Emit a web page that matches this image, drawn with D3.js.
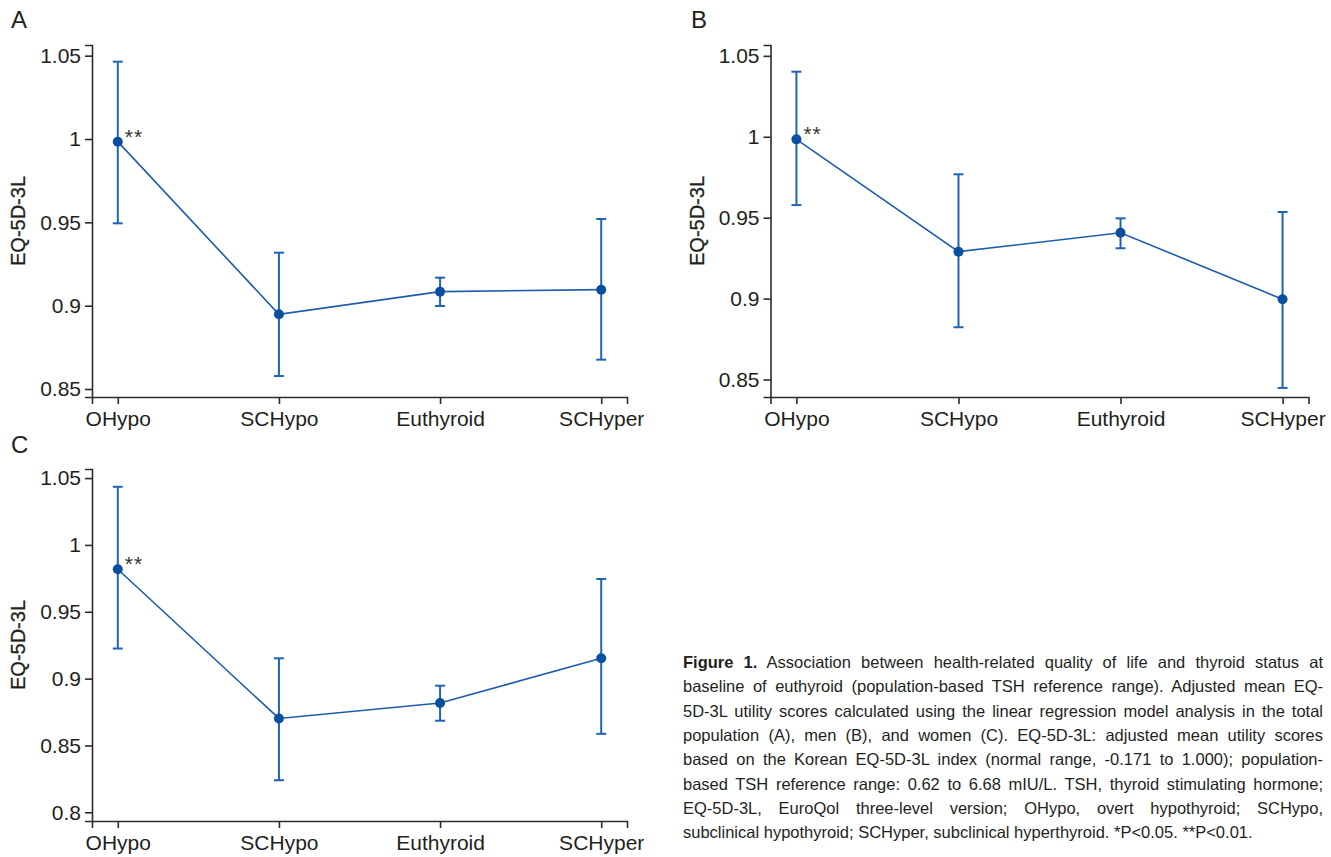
<!DOCTYPE html>
<html>
<head>
<meta charset="utf-8">
<script src="https://cdn.jsdelivr.net/npm/d3@7"></script>
<style>
  body { margin: 0; background: #fff; }
  svg { display: block; font-family: "Liberation Sans", Arial, sans-serif; }
  .axis path, .axis line { stroke: #2b2b2b; stroke-width: 1.6; }
  .axis text { font-size: 21px; fill: #231f20; font-family: "Liberation Sans", Arial, sans-serif; }
</style>
</head>
<body>
<svg id="fig" width="1331" height="857"></svg>
<script>
var categories = ["OHypo", "SCHypo", "Euthyroid", "SCHyper"];

// A: total population
var meanA = [0.9984, 0.8948, 0.9084, 0.9096];
var lowA  = [0.9494, 0.8578, 0.8998, 0.8676];
var highA = [1.0464, 0.9318, 0.9168, 0.9520];
var ticksA = [0.85, 0.9, 0.95, 1, 1.05];

// B: men
var meanB = [0.9984, 0.9290, 0.9407, 0.8996];
var lowB  = [0.9578, 0.8823, 0.9311, 0.8448];
var highB = [1.0402, 0.9768, 0.9496, 0.9535];
var ticksB = [0.85, 0.9, 0.95, 1, 1.05];

// C: women
var meanC = [0.9818, 0.8702, 0.8818, 0.9152];
var lowC  = [0.9225, 0.8240, 0.8685, 0.8587];
var highC = [1.0435, 0.9152, 0.8947, 0.9745];
var ticksC = [0.8, 0.85, 0.9, 0.95, 1, 1.05];

var sigLabel = ["**", "", "", ""];

var captionLines = [
  "Association between health-related quality of life and thyroid status at",
  "baseline of euthyroid (population-based TSH reference range). Adjusted mean EQ-",
  "5D-3L utility scores calculated using the linear regression model analysis in the total",
  "population (A), men (B), and women (C). EQ-5D-3L: adjusted mean utility scores",
  "based on the Korean EQ-5D-3L index (normal range, -0.171 to 1.000); population-",
  "based TSH reference range: 0.62 to 6.68 mIU/L. TSH, thyroid stimulating hormone;",
  "EQ-5D-3L, EuroQol three-level version; OHypo, overt hypothyroid; SCHypo,",
  "subclinical hypothyroid; SCHyper, subclinical hyperthyroid. *P<0.05. **P<0.01."
];

var barColor = "#1f64b4", dotColor = "#0a4f9f", lineColor = "#1c5cac";

var svg = d3.select("#fig");

function drawPanel(letter, box, yDomain, ticks, mean, low, high) {
  var g = svg.append("g");

  var x = d3.scalePoint().domain(categories).range([box.x0, box.x1]).padding(0.16);
  var y = d3.scaleLinear().domain(yDomain).range([box.y1, box.y0]);

  g.append("g").attr("class", "axis")
    .attr("transform", "translate(0," + box.y1 + ")")
    .call(d3.axisBottom(x).tickSize(7).tickPadding(7));

  g.append("g").attr("class", "axis")
    .attr("transform", "translate(" + box.x0 + ",0)")
    .call(d3.axisLeft(y).tickValues(ticks).tickFormat(function(d) { return String(d); }).tickSize(7).tickPadding(4));

  g.append("text")
    .attr("transform", "translate(" + (box.x0 - 74) + "," + ((box.y0 + box.y1) / 2) + ") rotate(-90)")
    .attr("text-anchor", "middle")
    .attr("dy", "0.35em")
    .style("font-size", "20px")
    .style("fill", "#231f20")
    .style("stroke", "#231f20")
    .style("stroke-width", 0.3)
    .text("EQ-5D-3L");

  g.append("text")
    .attr("x", box.lx).attr("y", box.ly)
    .style("font-size", "24px")
    .style("fill", "#231f20")
    .text(letter);

  var rows = categories.map(function(c, i) {
    return { cat: c, m: mean[i], lo: low[i], hi: high[i], sig: sigLabel[i] };
  });

  // error bars
  var eb = g.selectAll(".eb").data(rows).enter().append("g");
  eb.append("line")
    .attr("x1", function(d) { return x(d.cat); }).attr("x2", function(d) { return x(d.cat); })
    .attr("y1", function(d) { return y(d.lo); }).attr("y2", function(d) { return y(d.hi); })
    .attr("stroke", barColor).attr("stroke-width", 2);
  eb.append("line")
    .attr("x1", function(d) { return x(d.cat) - 5; }).attr("x2", function(d) { return x(d.cat) + 5; })
    .attr("y1", function(d) { return y(d.hi); }).attr("y2", function(d) { return y(d.hi); })
    .attr("stroke", barColor).attr("stroke-width", 2);
  eb.append("line")
    .attr("x1", function(d) { return x(d.cat) - 5; }).attr("x2", function(d) { return x(d.cat) + 5; })
    .attr("y1", function(d) { return y(d.lo); }).attr("y2", function(d) { return y(d.lo); })
    .attr("stroke", barColor).attr("stroke-width", 2);

  var line = d3.line().x(function(d) { return x(d.cat); }).y(function(d) { return y(d.m); });
  g.append("path").datum(rows)
    .attr("d", line)
    .attr("fill", "none")
    .attr("stroke", lineColor)
    .attr("stroke-width", 1.6);

  g.selectAll(".dot").data(rows).enter().append("circle")
    .attr("cx", function(d) { return x(d.cat); })
    .attr("cy", function(d) { return y(d.m); })
    .attr("r", 5)
    .attr("fill", dotColor);

  g.selectAll(".sig").data(rows.filter(function(d) { return d.sig; })).enter().append("text")
    .attr("x", function(d) { return x(d.cat) + 7; })
    .attr("y", function(d) { return y(d.m) + 2; })
    .style("font-size", "21px")
    .style("letter-spacing", "1px")
    .style("fill", "#333")
    .text(function(d) { return d.sig; });
}

drawPanel("A", { x0: 92, x1: 627, y0: 45, y1: 397, lx: 11, ly: 28 }, [0.8452, 1.0564], ticksA, meanA, lowA, highA);
drawPanel("B", { x0: 770.5, x1: 1308.5, y0: 45, y1: 397, lx: 691, ly: 28 }, [0.8392, 1.0567], ticksB, meanB, lowB, highB);
drawPanel("C", { x0: 92, x1: 627, y0: 469, y1: 821, lx: 11, ly: 453 }, [0.7935, 1.0568], ticksC, meanC, lowC, highC);

// caption, justified line by line
var capX = 683, capW = 640, capY = 668, capLH = 24.3;
var cap = svg.append("g")
  .style("font-family", "'Liberation Sans Narrow', 'Liberation Sans', Arial, sans-serif")
  .style("font-size", "16.5px")
  .style("fill", "#231f20");

captionLines.forEach(function(s, i) {
  var t = cap.append("text").attr("x", capX).attr("y", capY + i * capLH);
  if (i === 0) {
    t.append("tspan").style("font-weight", "bold").text("Figure 1.");
    t.append("tspan").text(" " + s);
  } else {
    t.text(s);
  }
  if (i < captionLines.length - 1) {
    var w = t.node().getComputedTextLength();
    var full = (i === 0 ? "Figure 1. " + s : s);
    var spaces = full.split(" ").length - 1;
    if (spaces > 0) t.attr("word-spacing", (capW - w) / spaces);
  }
});
</script>
</body>
</html>
